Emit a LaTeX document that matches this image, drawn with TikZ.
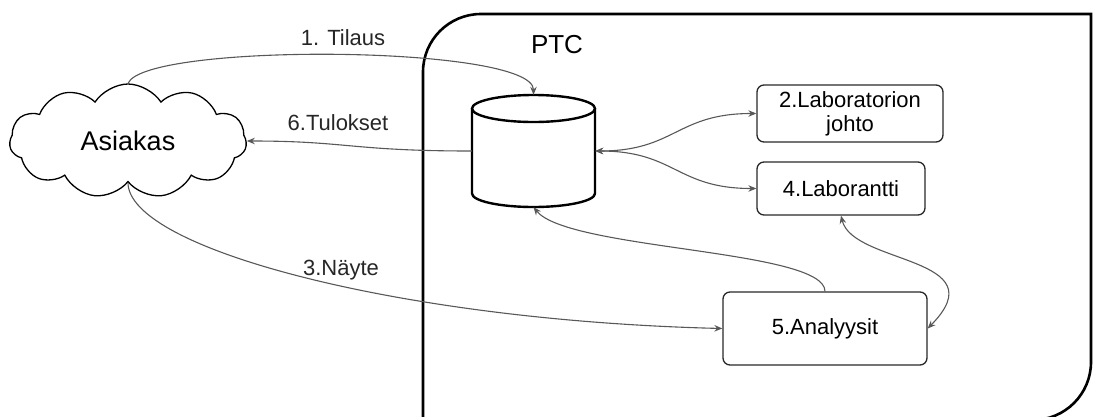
\documentclass[tikz,border=0pt]{standalone}
\usepackage{fontspec}
\setmainfont{Liberation Sans}
\usetikzlibrary{arrows.meta,shapes.symbols}
\definecolor{linkG}{RGB}{88,88,88}
\definecolor{boxK}{RGB}{40,40,40}
\newcommand{\labfont}{\fontsize{22}{24}\selectfont}

\tikzset{
  labbox/.style={draw=boxK,line width=1.3pt,rounded corners=7pt,align=center,inner sep=2pt,font=\labfont},
  link/.style={linkG,line width=1.1pt},
  lbl/.style={font=\labfont,text=black!85,inner sep=1pt}
}

\begin{document}
\begin{tikzpicture}[x=1pt,y=-1pt,>={Stealth[length=8pt,width=6.5pt]}]
\useasboundingbox (0,0) rectangle (1093,416);
% PTC: the lab's own area
\draw[line width=2.6pt] (423,470) -- (423,72) arc(180:270:58) -- (1091,14) -- (1091,362) arc(0:90:58) -- (400,420);
\node[font=\fontsize{26}{28}\selectfont] (ptc) at (557,45) {PTC};
% customer
\node[cloud,draw,line width=1.3pt,cloud puffs=11,cloud puff arc=115,aspect=2.08,
      minimum width=237pt,minimum height=114pt,inner sep=0pt,font=\fontsize{27}{29}\selectfont] (asiakas) at (128,141) {Asiakas};
% database
\node[minimum width=123pt,minimum height=112pt,inner sep=0pt] (db) at (533.5,151) {};
\draw[line width=2.4pt] (472,108.5) -- (472,193.5) arc(180:0:61.5 and 13.5) -- (595,108.5);
\draw[line width=2.4pt] (533.5,108.5) ellipse (61.5 and 13.5);
% lab roles and tasks
\node[labbox,minimum width=186pt,minimum height=57pt] (johto) at (850,113.5) {2.Laboratorion\\johto};
\node[labbox,minimum width=168pt,minimum height=53pt] (laborantti) at (841,188.5) {4.Laborantti};
\node[labbox,minimum width=204pt,minimum height=73pt] (analyysit) at (825,328.5) {5.Analyysit};
% flows
\draw[link,->] (asiakas.north) .. controls +(17,-41) and +(0,-50) .. (db.north);
\node[lbl] (tilaus) at (343,38) {1. Tilaus};
\draw[link,->] (db.west) .. controls +(-120,0) and +(100,0) .. (asiakas.east);
\node[lbl] (tulokset) at (338,123) {6.Tulokset};
\draw[link,<->] (db.east) .. controls +(80,0) and +(-80,0) .. (johto.west);
\draw[link,<->] (db.east) .. controls +(80,0) and +(-80,0) .. (laborantti.west);
\draw[link,->] (analyysit.north) .. controls +(0,-42) and +(35,43) .. (db.south);
\draw[link,<->] (laborantti.south) .. controls +(12,49) and +(71,-72) .. (analyysit.east);
\draw[link,->] (asiakas.south) .. controls +(0,66) and +(-323,-8) .. (analyysit.west);
\node[lbl] (nayte) at (341,270) {3.Näyte};
\end{tikzpicture}
\end{document}
